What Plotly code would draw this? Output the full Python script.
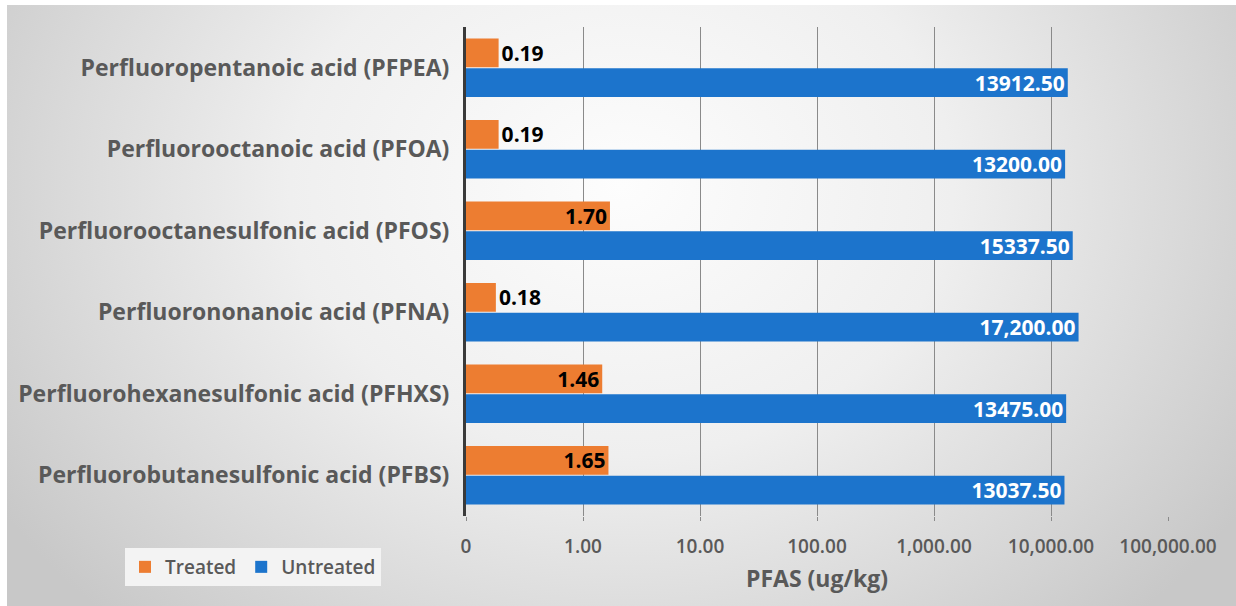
import plotly.graph_objects as go

categories = [
    "Perfluoropentanoic acid (PFPEA)",
    "Perfluorooctanoic acid (PFOA)",
    "Perfluorooctanesulfonic acid (PFOS)",
    "Perfluorononanoic acid (PFNA)",
    "Perfluorohexanesulfonic acid (PFHXS)",
    "Perfluorobutanesulfonic acid (PFBS)",
]
treated = [0.19, 0.19, 1.70, 0.18, 1.46, 1.65]
treated_labels = ["0.19", "0.19", "1.70", "0.18", "1.46", "1.65"]
untreated = [13912.50, 13200.00, 15337.50, 17200.00, 13475.00, 13037.50]
untreated_labels = ["13912.50", "13200.00", "15337.50", "17,200.00", "13475.00", "13037.50"]
tick_vals = [0.1, 1, 10, 100, 1000, 10000, 100000]
tick_text = ["0", "1.00", "10.00", "100.00", "1,000.00", "10,000.00", "100,000.00"]

W, H = 1236, 606
FONT = "Open Sans"
GRAY = "#595959"
ORANGE = "#ED7D31"
BLUE = "#1C74CC"

fig = go.Figure()

# background gradient (own hidden subplot, drawn first)
fig.add_trace(go.Scatter(
    x=[-0.1, 1.1, 1.1, -0.1, -0.1], y=[-0.3, -0.3, 1.7, 1.7, -0.3],
    mode="lines", line=dict(width=0), fill="toself",
    fillgradient=dict(type="radial",
                      colorscale=[[0, "#fdfdfd"], [0.45, "#efefef"],
                                  [0.75, "#dadada"], [1, "#c8c8c8"]]),
    hoverinfo="skip", showlegend=False, xaxis="x", yaxis="y",
))

treated_pos = ["outside" if v < 1 else "inside" for v in treated]

fig.add_trace(go.Bar(
    name="Treated", y=categories, x=treated, orientation="h",
    marker=dict(color=ORANGE, line=dict(width=0)),
    text=treated_labels, textposition=treated_pos, insidetextanchor="end",
    textfont=dict(family=FONT, size=21, color="#000000", weight="bold"),
    cliponaxis=False, xaxis="x2", yaxis="y2",
))
fig.add_trace(go.Bar(
    name="Untreated", y=categories, x=untreated, orientation="h",
    marker=dict(color=BLUE, line=dict(width=0)),
    text=untreated_labels, textposition="inside", insidetextanchor="end",
    textfont=dict(family=FONT, size=21, color="#ffffff", weight="bold"),
    cliponaxis=False, xaxis="x2", yaxis="y2",
))

x0, x1 = 466, 1168
ytop, ybot = 27, 516

fig.update_layout(
    width=W, height=H,
    margin=dict(l=0, r=0, t=0, b=0),
    paper_bgcolor="#ffffff", plot_bgcolor="rgba(0,0,0,0)",
    barmode="group", bargap=0.27, bargroupgap=0.04,
    font=dict(family=FONT, color=GRAY),
    uniformtext=dict(minsize=21, mode="show"),
    xaxis=dict(domain=[7 / W, 1], range=[0, 1], visible=False, fixedrange=True),
    yaxis=dict(domain=[0, 1 - 5 / H], range=[0, 1], visible=False, fixedrange=True),
    xaxis2=dict(
        domain=[x0 / W, x1 / W], anchor="y2", type="log", range=[-1, 5],
        tickvals=tick_vals, ticktext=tick_text,
        tickfont=dict(family=FONT, size=19, color=GRAY, weight=600),
        showgrid=True, gridcolor="#8a8a8a", gridwidth=1,
        ticks="outside", ticklen=4, tickcolor="#8a8a8a",
        ticklabelstandoff=9, showline=False, zeroline=False, automargin=False,
    ),
    yaxis2=dict(
        domain=[1 - ybot / H, 1 - ytop / H], anchor="x2", type="category",
        autorange="reversed",
        tickfont=dict(family=FONT, size=23, color=GRAY, weight="bold"),
        showline=True, linecolor="#3a3a3a", linewidth=3,
        showgrid=False, ticks="", ticklabelstandoff=9, automargin=False,
    ),
    legend=dict(
        orientation="h", x=125 / W, y=1 - 548 / H, xanchor="left", yanchor="top",
        bgcolor="#f3f3f3", borderwidth=0,
        font=dict(family=FONT, size=19, color=GRAY, weight=600),
        itemwidth=30, traceorder="normal",
    ),
    annotations=[dict(
        text="PFAS (ug/kg)", x=(x0 + x1) / 2 / W, y=1 - 578 / H,
        xref="paper", yref="paper", xanchor="center", yanchor="middle",
        showarrow=False, font=dict(family=FONT, size=23, color=GRAY, weight="bold"),
    )],
)

fig.write_html(
    "out.html",
    config={"displayModeBar": False},
    post_script="document.body.style.margin='0';document.body.style.overflow='hidden';",
)
